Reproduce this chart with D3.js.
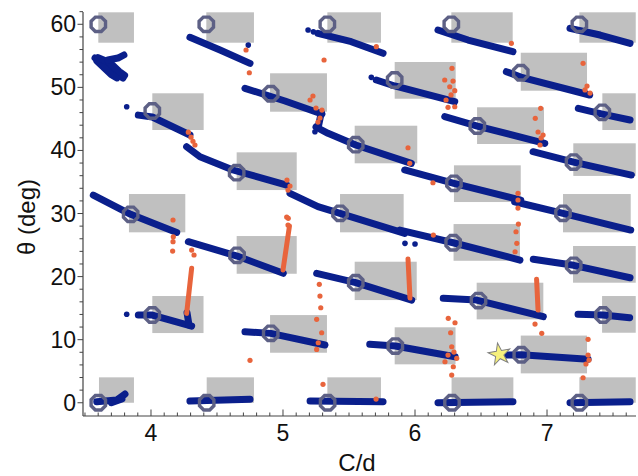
<!DOCTYPE html>
<html><head><meta charset="utf-8">
<script src="https://cdn.jsdelivr.net/npm/d3@7"></script>
<style>body{margin:0;background:#fff} svg{display:block} text{font-family:"Liberation Sans",Arial,sans-serif}</style>
</head><body><svg id="c" width="638" height="476"></svg>
<script>
// ---- data (C/d, theta in degrees) ----
const xTicks = [4, 5, 6, 7];
const yTicks = [0, 10, 20, 30, 40, 50, 60];

// reference configurations (octagon markers)
const refPoints = [
  [3.601,60],[4.419,60],[5.336,60],[6.275,60],[7.245,60],
  [4.907,48.99],[4.010,46.25],[5.846,51.17],[6.801,52.32],[7.419,46.04],
  [4.649,36.47],[5.551,40.91],[6.472,43.87],[7.201,38.16],[6.295,34.79],
  [3.846,29.87],[5.432,30.03],[7.121,30.03],
  [4.652,23.37],[6.289,25.37],[7.202,21.79],[5.551,19.03],
  [4.010,13.91],[4.907,11.0],[6.481,16.2],[7.424,13.91],
  [5.851,8.99],[6.805,7.61],
  [3.601,0],[4.422,0],[5.338,0],[6.280,0],[7.245,0]
];

// gray regions: [C/d min, C/d max, theta min, theta max]
const regions = [
  [3.601,3.871,57.08,61.9],[4.419,4.780,57.08,61.9],[5.336,5.742,57.08,61.9],[6.275,6.740,57.08,61.9],[7.245,7.672,57.08,61.9],
  [4.902,5.333,46.14,52.23],[4.010,4.399,43.24,49.06],[5.846,6.308,48.2,54.02],[6.801,7.303,49.47,55.49],[7.419,7.672,43.24,49.06],
  [4.649,5.104,33.72,39.7],[5.543,6.017,37.96,43.92],[6.470,6.977,41.02,46.84],[7.199,7.672,35.96,41.13],[6.295,6.801,31.82,37.64],
  [3.833,4.260,27.02,33.09],[5.432,5.914,27.02,33.09],[7.121,7.634,27.02,33.09],
  [4.649,5.104,20.45,26.43],[6.292,6.795,22.51,28.33],[7.197,7.672,19.03,24.85],[5.543,6.013,16.28,22.36],
  [4.010,4.398,11.05,16.92],[4.902,5.333,7.93,13.9],[6.467,6.972,13.22,19.03],[7.417,7.672,11.1,16.92],
  [5.846,6.307,6.09,11.96],[6.801,7.303,4.66,10.65],
  [3.606,3.871,0,4.03],[4.422,4.780,0,4.03],[5.336,5.742,0,4.03],[6.277,6.745,0,4.03],[7.245,7.672,0,4.03]
];

// measured branches (blue), each a traced polyline
const blueBranches = [
  [[3.576,54.65],[3.659,53.7],[3.720,52.43],[3.788,51.48]],
  [[3.590,54.2],[3.650,53.0],[3.700,52.0],[3.742,51.5]],
  [[3.600,54.7],[3.690,53.9],[3.760,52.5],[3.800,51.9]],
  [[3.674,54.34],[3.750,54.65],[3.795,55.13]],
  [[4.295,57.94],[4.523,55.92],[4.750,53.81]],
  [[5.265,58.57],[5.517,57.24],[5.758,55.40]],
  [[6.174,59.09],[6.402,57.5],[6.742,55.65]],
  [[7.174,59.36],[7.402,58.3],[7.629,56.98]],
  [[4.712,49.85],[5.015,47.84],[5.295,45.77]],
  [[5.29,46.0],[5.27,44.0]],
  [[5.707,51.17],[5.846,50.22],[6.301,47.73]],
  [[6.692,52.48],[6.801,51.64],[7.323,48.79]],
  [[7.237,46.68],[7.419,45.77],[7.629,44.82]],
  [[3.904,45.6],[4.010,45.3],[4.295,42.45]],
  [[4.270,40.59],[4.371,39.0],[4.621,36.9],[5.028,34.5]],
  [[5.25,43.72],[5.341,42.71],[5.551,40.86],[5.972,37.96]],
  [[5.053,33.2],[5.265,31.08],[5.432,30.03],[5.922,26.86]],
  [[6.225,45.35],[6.472,43.87],[6.983,41.13]],
  [[6.894,39.8],[7.201,38.16],[7.639,36.1]],
  [[5.922,36.9],[6.295,34.79],[6.801,32.14]],
  [[6.755,31.87],[7.121,30.03],[7.634,27.38]],
  [[3.563,32.93],[3.846,29.87],[4.195,27.0]],
  [[4.283,25.53],[4.652,23.26],[5.002,20.52]],
  [[3.904,13.91],[4.010,13.91],[4.308,12.16]],
  [[4.273,14.27],[4.288,12.32]],
  [[4.712,11.26],[4.907,11.0],[5.318,9.15]],
  [[3.589,0.16],[3.740,0.43],[3.803,1.38]],
  [[3.700,0.0],[3.780,0.6]],
  [[4.295,0.27],[4.750,0.54]],
  [[5.205,0.27],[5.758,0.16]],
  [[6.174,0.0],[6.742,0.16]],
  [[7.174,0.0],[7.629,0.16]],
  [[5.886,27.38],[6.289,25.37],[6.795,22.62]],
  [[5.255,20.52],[5.551,19.03],[5.975,16.28]],
  [[6.896,22.74],[7.202,21.79],[7.629,19.82]],
  [[6.214,16.55],[6.467,16.28],[6.972,13.64]],
  [[7.235,14.02],[7.424,13.91],[7.626,13.48]],
  [[5.657,9.26],[5.851,8.99],[6.303,7.29]],
  [[6.695,7.56],[6.805,7.61],[7.311,6.88]]
];
const blueSingles = [
  [3.816,46.93],[3.816,14.02],[5.669,51.59],[5.242,42.97],[5.924,25.27],[6.0,25.16],
  [5.19,59.1],[5.23,58.8],[4.737,56.7]
];

// transitions (orange)
const orangeBranches = [
  [[5.049,28.02],[5.0,21.04]],
  [[4.308,21.31],[4.27,14.17]],
  [[5.947,22.78],[5.962,16.6]],
  [[6.921,19.57],[6.932,14.7]]
];
const orangeSingles = [
  [4.72,55.92],[4.745,52.32],[5.311,54.34],[5.707,56.45],[6.730,56.98],
  [5.205,48.0],[5.25,46.73],[5.28,45.14],[5.265,44.5],[5.295,46.4],[5.227,48.63],
  [6.28,53.02],[6.225,51.17],[6.288,51.0],[6.263,50.1],[6.301,49.47],[6.25,46.84],[6.301,46.93],[6.235,48.0],[6.273,48.8],
  [7.273,53.81],[7.303,50.2],[7.326,49.1],[7.288,49.6],
  [4.283,42.9],[4.303,42.1],[4.318,41.46],[4.333,40.86],
  [5.03,35.3],[5.053,34.36],[5.038,33.72],
  [5.947,40.43],[5.96,37.96],
  [6.952,46.68],[6.911,45.09],[6.932,42.92],[6.955,41.97],[6.947,40.86],[6.97,42.45],
  [6.136,34.88],[6.78,33.2],[6.78,32.14],[6.78,30.87],
  [6.139,26.59],
  [6.783,28.33],[6.765,27.11],[6.771,25.27],[6.758,23.94],
  [4.167,28.97],[4.169,26.32],[4.167,25.53],[4.164,24.05],
  [4.308,24.21],[4.326,23.42],
  [5.04,29.24],[5.028,29.44],[5.038,28.17],
  [5.275,18.78],[5.28,16.92],[5.286,15.06],[5.255,13.22],[5.293,11.1],[5.267,9.51],[5.255,8.46],
  [4.75,6.72],
  [6.909,12.48],[6.96,11.0],
  [6.252,13.38],[6.303,12.68],[6.27,11.1],[6.278,8.88],[6.316,7.04],[6.227,6.5],[6.29,5.71],[6.278,4.39],[6.295,8.04],[6.25,7.56],
  [7.311,10.05],[7.273,3.96],[7.311,7.56],[7.318,6.77],[7.295,6.14],
  [5.303,2.92],[5.705,0.59]
];
const starPoint = [6.64, 7.67];

// ---- drawing ----
const svg = d3.select("#c");
const x = d3.scaleLinear().domain([3.485, 7.674]).range([83, 636]);
const y = d3.scaleLinear().domain([-2.1, 61.9]).range([416, 12.3]);

const BLUE = "#0a1f8c", ORANGE = "#e8643c", GRAY = "#c0c0c0";

svg.append("g").selectAll("rect").data(regions).join("rect")
  .attr("x", d => x(d[0])).attr("y", d => y(d[3]))
  .attr("width", d => x(d[1]) - x(d[0])).attr("height", d => y(d[2]) - y(d[3]))
  .attr("fill", GRAY);

const lineV = d3.line().x(d => x(d[0])).y(d => y(d[1]));

svg.append("g").selectAll("path").data(blueBranches).join("path")
  .attr("d", d => lineV(d)).attr("fill", "none").attr("stroke", BLUE)
  .attr("stroke-width", 7).attr("stroke-linecap", "round").attr("stroke-linejoin", "round");
svg.append("g").selectAll("circle").data(blueSingles).join("circle")
  .attr("cx", d => x(d[0])).attr("cy", d => y(d[1])).attr("r", 2.8).attr("fill", BLUE);

svg.append("g").selectAll("path").data(orangeBranches).join("path")
  .attr("d", d => lineV(d)).attr("fill", "none").attr("stroke", ORANGE)
  .attr("stroke-width", 5).attr("stroke-linecap", "round");
svg.append("g").selectAll("circle").data(orangeSingles).join("circle")
  .attr("cx", d => x(d[0])).attr("cy", d => y(d[1])).attr("r", 2.6).attr("fill", ORANGE);

const oct = (r) => {
  const pts = d3.range(8).map(k => {
    const a = Math.PI / 8 + k * Math.PI / 4;
    return [r * Math.cos(a), r * Math.sin(a)];
  });
  return "M" + pts.map(p => p.join(",")).join("L") + "Z";
};
svg.append("g").selectAll("path").data(refPoints).join("path")
  .attr("transform", d => `translate(${x(d[0])},${y(d[1])})`)
  .attr("d", oct(7.8)).attr("fill", "none").attr("stroke", "#5d6085").attr("stroke-width", 3.4);

svg.append("path")
  .attr("transform", `translate(${x(starPoint[0])},${y(starPoint[1])}) rotate(-10)`)
  .attr("d", d3.symbol().type(d3.symbolStar).size(150)())
  .attr("fill", "#f6f07c").attr("stroke", "#808080").attr("stroke-width", 1);

// axes
const axisColor = "#444";
const gx = svg.append("g").attr("transform", "translate(0,416)");
gx.append("line").attr("x1", 83).attr("x2", 636).attr("stroke", axisColor).attr("stroke-width", 1.2);
const xMinor = d3.range(35, 77).map(v => v / 10);
gx.selectAll("line.mn").data(xMinor).join("line").attr("class", "mn")
  .attr("x1", d => x(d)).attr("x2", d => x(d))
  .attr("y1", 0).attr("y2", d => Math.abs(d - Math.round(d)) < 1e-6 ? -6.5 : -3.5)
  .attr("stroke", axisColor).attr("stroke-width", 1);
gx.selectAll("text").data(xTicks).join("text")
  .attr("x", d => x(d)).attr("y", 25).attr("text-anchor", "middle")
  .attr("font-size", 23).attr("fill", "#111").text(d => d);

const gy = svg.append("g").attr("transform", "translate(83,0)");
gy.append("line").attr("y1", 12).attr("y2", 416).attr("stroke", axisColor).attr("stroke-width", 1.2);
const yMinor = d3.range(0, 63, 2);
gy.selectAll("line.mn").data(yMinor).join("line").attr("class", "mn")
  .attr("y1", d => y(d)).attr("y2", d => y(d))
  .attr("x1", 0).attr("x2", d => d % 10 === 0 ? -5.5 : -3.5)
  .attr("stroke", axisColor).attr("stroke-width", 1);
gy.selectAll("text").data(yTicks).join("text")
  .attr("x", -7).attr("y", d => y(d) + 8).attr("text-anchor", "end")
  .attr("font-size", 23).attr("fill", "#111").text(d => d);

svg.append("text").attr("x", 357).attr("y", 471).attr("text-anchor", "middle")
  .attr("font-size", 24).attr("fill", "#111").text("C/d");
svg.append("text").attr("transform", "translate(35,217) rotate(-90)").attr("text-anchor", "middle")
  .attr("font-size", 24).attr("fill", "#111").text("θ (deg)");
</script></body></html>
